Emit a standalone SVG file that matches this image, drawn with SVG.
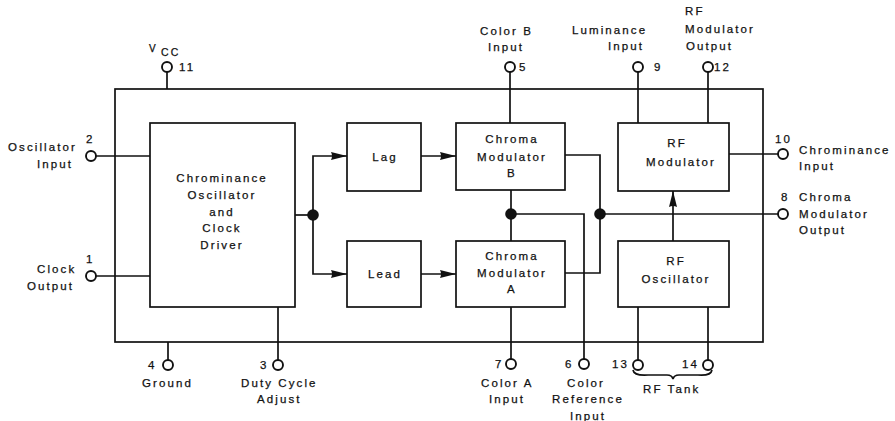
<svg xmlns="http://www.w3.org/2000/svg" width="895" height="421" viewBox="0 0 895 421">
<defs>
<style>
.t{font-family:"Liberation Sans",Arial,sans-serif;font-size:11.5px;letter-spacing:2.1px;fill:#111;stroke:#111;stroke-width:0.25px}
.m{text-anchor:middle}
.ln{fill:none;stroke:#111;stroke-width:1.7}
.box{fill:#fff;stroke:#111;stroke-width:1.7}
.pin{fill:#fff;stroke:#111;stroke-width:1.9}
.dot{fill:#111}
</style>
<marker id="arr" viewBox="0 0 16 9" refX="16" refY="4.5" markerWidth="16" markerHeight="9" markerUnits="userSpaceOnUse" orient="auto">
<path d="M0,0.5 L16,4.5 L0,8.5 Q2,4.5 0,0.5 Z" fill="#111"/>
</marker>
</defs>
<rect width="895" height="421" fill="#fff"/>

<g id="connectors">
<rect x="115" y="89" width="648" height="253" class="ln"/>
<!-- pin 11 -->
<line x1="167" y1="72" x2="167" y2="89" class="ln"/>
<!-- pin 2, pin 1 -->
<line x1="96" y1="156" x2="150" y2="156" class="ln"/>
<line x1="96" y1="276" x2="150" y2="276" class="ln"/>
<!-- pin 4, pin 3 -->
<line x1="168" y1="342" x2="168" y2="360" class="ln"/>
<line x1="278" y1="307" x2="278" y2="360" class="ln"/>
<!-- osc to split -->
<line x1="295" y1="215" x2="313" y2="215" class="ln"/>
<path d="M313,215 V156 H347" class="ln" marker-end="url(#arr)"/>
<path d="M313,215 V274 H347" class="ln" marker-end="url(#arr)"/>
<line x1="421" y1="156" x2="456" y2="156" class="ln" marker-end="url(#arr)"/>
<line x1="421" y1="274" x2="456" y2="274" class="ln" marker-end="url(#arr)"/>
<!-- pin 5, B-A link, pin 7 -->
<line x1="510" y1="72" x2="510" y2="123" class="ln"/>
<line x1="511" y1="190" x2="511" y2="241" class="ln"/>
<line x1="511" y1="307" x2="511" y2="359" class="ln"/>
<!-- colour reference to pin 6 -->
<path d="M511,214 H584 V359" class="ln"/>
<!-- modulator outputs -->
<path d="M565,155 H600 V273 H565" class="ln"/>
<line x1="600" y1="214" x2="778" y2="214" class="ln"/>
<!-- pins 9, 12 -->
<line x1="638" y1="72" x2="638" y2="123" class="ln"/>
<line x1="708" y1="72" x2="708" y2="123" class="ln"/>
<!-- pin 10 -->
<line x1="729" y1="154" x2="778" y2="154" class="ln"/>
<!-- RF osc to RF mod -->
<line x1="673" y1="241" x2="673" y2="191" class="ln" marker-end="url(#arr)"/>
<!-- pins 13, 14 -->
<line x1="638" y1="307" x2="638" y2="360" class="ln"/>
<line x1="708" y1="307" x2="708" y2="360" class="ln"/>
<!-- brace -->
<path d="M633,370 Q634,376 648,375 L667,375 Q672,375 673,379 Q674,375 679,375 L698,375 Q711,376 712,370" class="ln" stroke-width="1.4"/>
<!-- junctions -->
<circle cx="313" cy="215" r="5.8" class="dot"/>
<circle cx="511" cy="214" r="5.8" class="dot"/>
<circle cx="600" cy="214" r="5.8" class="dot"/>
</g>

<g id="osc">
<rect x="150" y="123" width="145" height="184" class="box"/>
<text class="t m" x="222" y="182">Chrominance</text>
<text class="t m" x="222" y="199">Oscillator</text>
<text class="t m" x="222" y="216">and</text>
<text class="t m" x="222" y="232">Clock</text>
<text class="t m" x="222" y="249">Driver</text>
</g>

<g id="lag">
<rect x="347" y="123" width="74" height="68" class="box"/>
<text class="t m" x="385" y="161">Lag</text>
</g>

<g id="lead">
<rect x="347" y="241" width="74" height="66" class="box"/>
<text class="t m" x="385" y="278">Lead</text>
</g>

<g id="modB">
<rect x="456" y="123" width="109" height="67" class="box"/>
<text class="t m" x="512" y="143">Chroma</text>
<text class="t m" x="512" y="161">Modulator</text>
<text class="t m" x="512" y="177">B</text>
</g>

<g id="modA">
<rect x="456" y="241" width="109" height="66" class="box"/>
<text class="t m" x="512" y="260">Chroma</text>
<text class="t m" x="512" y="277">Modulator</text>
<text class="t m" x="512" y="293">A</text>
</g>

<g id="rfmod">
<rect x="618" y="123" width="111" height="68" class="box"/>
<text class="t m" x="677" y="147">RF</text>
<text class="t m" x="681" y="166">Modulator</text>
</g>

<g id="rfosc">
<rect x="618" y="241" width="111" height="66" class="box"/>
<text class="t m" x="676" y="265">RF</text>
<text class="t m" x="676" y="283">Oscillator</text>
</g>

<g id="pin11">
<circle cx="167" cy="67" r="5" class="pin"/>
<text class="t" x="149" y="52" style="font-size:10px">V</text>
<text class="t" x="161" y="56" style="font-size:10.5px">CC</text>
<text class="t" x="179" y="71">11</text>
</g>

<g id="pin2">
<circle cx="91" cy="156" r="5" class="pin"/>
<text class="t" x="86" y="143">2</text>
<text class="t" x="8" y="151">Oscillator</text>
<text class="t" x="37" y="168">Input</text>
</g>

<g id="pin1">
<circle cx="91" cy="276" r="5" class="pin"/>
<text class="t" x="86" y="263">1</text>
<text class="t" x="37" y="273">Clock</text>
<text class="t" x="27" y="290">Output</text>
</g>

<g id="pin4">
<circle cx="168" cy="365" r="5" class="pin"/>
<text class="t" x="148" y="369">4</text>
<text class="t" x="142" y="387">Ground</text>
</g>

<g id="pin3">
<circle cx="278" cy="365" r="5" class="pin"/>
<text class="t" x="260" y="369">3</text>
<text class="t" x="241" y="387">Duty Cycle</text>
<text class="t" x="257" y="403">Adjust</text>
</g>

<g id="pin5">
<circle cx="510" cy="67" r="5" class="pin"/>
<text class="t" x="519" y="71">5</text>
<text class="t" x="480" y="35">Color B</text>
<text class="t" x="488" y="51">Input</text>
</g>

<g id="pin9">
<circle cx="638" cy="67" r="5" class="pin"/>
<text class="t" x="654" y="71">9</text>
<text class="t" x="572" y="34">Luminance</text>
<text class="t" x="608" y="50">Input</text>
</g>

<g id="pin12">
<circle cx="708" cy="67" r="5" class="pin"/>
<text class="t" x="714" y="71">12</text>
<text class="t" x="685" y="15">RF</text>
<text class="t" x="685" y="33">Modulator</text>
<text class="t" x="686" y="50">Output</text>
</g>

<g id="pin10">
<circle cx="783" cy="154" r="5" class="pin"/>
<text class="t" x="775" y="143">10</text>
<text class="t" x="799" y="154">Chrominance</text>
<text class="t" x="799" y="170">Input</text>
</g>

<g id="pin8">
<circle cx="783" cy="214" r="5" class="pin"/>
<text class="t" x="781" y="201">8</text>
<text class="t" x="799" y="201">Chroma</text>
<text class="t" x="799" y="218">Modulator</text>
<text class="t" x="799" y="234">Output</text>
</g>

<g id="pin7">
<circle cx="511" cy="364" r="5" class="pin"/>
<text class="t" x="495" y="368">7</text>
<text class="t" x="481" y="387">Color A</text>
<text class="t" x="489" y="403">Input</text>
</g>

<g id="pin6">
<circle cx="584" cy="364" r="5" class="pin"/>
<text class="t" x="565" y="368">6</text>
<text class="t" x="567" y="387">Color</text>
<text class="t" x="552" y="403">Reference</text>
<text class="t" x="570" y="420">Input</text>
</g>

<g id="pin13">
<circle cx="638" cy="365" r="5" class="pin"/>
<text class="t" x="612" y="368">13</text>
</g>

<g id="pin14">
<circle cx="708" cy="365" r="5" class="pin"/>
<text class="t" x="682" y="368">14</text>
<text class="t" x="643" y="393">RF Tank</text>
</g>
</svg>
